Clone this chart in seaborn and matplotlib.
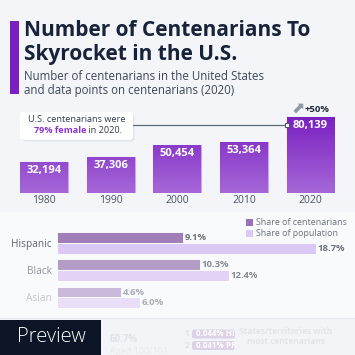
import numpy as np
import pandas as pd
import seaborn as sns
import matplotlib.pyplot as plt
from matplotlib.patches import Rectangle, FancyBboxPatch
from matplotlib.colors import LinearSegmentedColormap

# data
years = ["1980", "1990", "2000", "2010", "2020"]
centenarians = [32194, 37306, 50454, 53364, 80139]

groups = ["Hispanic", "Black", "Asian"]
metrics = ["Share of centenarians", "Share of population"]
share_centenarians = [9.1, 10.3, 4.6]
share_population = [18.7, 12.4, 6.0]

title_lines = ["Number of Centenarians To", "Skyrocket in the U.S."]
subtitle_lines = ["Number of centenarians in the United States",
                  "and data points on centenarians (2020)"]

W = H = 355
BG = "#f3f5f9"
FONT = ["Open Sans", "DejaVu Sans"]

sns.set_theme(style="white")
plt.rcParams["font.family"] = FONT

fig = plt.figure(figsize=(W / 100, H / 100), dpi=100, facecolor=BG)


def px_axes(l, t, r, b, **kw):
    """add an axes placed by pixel edges (origin top-left)"""
    return fig.add_axes([l / W, 1 - b / H, (r - l) / W, (b - t) / H], **kw)


# background panels
back = px_axes(0, 0, W, H)
back.set_xlim(0, W)
back.set_ylim(H, 0)
back.axis("off")
back.add_patch(Rectangle((0, 212), W, 106, color="#f9fafc", lw=0))
back.add_patch(Rectangle((0, 318), W, 37, color="#f2f4f8", lw=0))
back.plot([0, W], [318, 318], color="#e7eaf0", lw=1)
back.add_patch(Rectangle((10, 21), 9, 73, color="#7a1fc0", lw=0))

for line, yb in zip(title_lines, [36.5, 60]):
    back.text(23.5, yb, line, fontsize=15, fontweight="bold", color="#18233a", va="baseline")
for line, yb in zip(subtitle_lines, [80.3, 94]):
    back.text(24, yb, line, fontsize=8.3, color="#3c4858", va="baseline")

# column chart
ax1 = px_axes(10.7, 100, 343.8, 192.7)
ax1.patch.set_alpha(0)
sns.barplot(x=years, y=centenarians, ax=ax1, width=0.72, color="#9a55d0",
            edgecolor="#caa6ee", linewidth=0.8)
ymax = max(centenarians) * (192.7 - 100) / 76
sns.despine(ax=ax1, left=True, bottom=True)
ax1.set_yticks([])
ax1.set_ylabel("")
ax1.tick_params(axis="x", length=0, pad=1.5, labelsize=7.5, labelcolor="#4b5563")

grad = LinearSegmentedColormap.from_list("g", ["#a668d8", "#7a20c0"])
gimg = np.linspace(0, 1, 256).reshape(-1, 1)
top_val = max(centenarians)
for p in ax1.patches:
    im = ax1.imshow(gimg, cmap=grad, origin="lower", aspect="auto",
                    extent=[p.get_x(), p.get_x() + p.get_width(), 0, top_val],
                    zorder=p.get_zorder() + 0.1)
    im.set_clip_path(p)
ax1.set_xlim(-0.5, len(years) - 0.5)
ax1.set_ylim(0, ymax)

for i, v in enumerate(centenarians):
    ax1.annotate(f"{v:,}", xy=(i, v), xytext=(0, -6), textcoords="offset points",
                 ha="center", va="center", color="white", fontweight="bold",
                 fontsize=8, zorder=5)

growth = centenarians[-1] / centenarians[-2] - 1
ax1.annotate(f"+{growth:.0%}", xy=(len(years) - 1, centenarians[-1]), xytext=(4.5, 5.5),
             textcoords="offset points", ha="center", va="center",
             fontsize=6.8, fontweight="bold", color="#222a35", annotation_clip=False)
ax1.annotate("\u2b08", xy=(len(years) - 1, centenarians[-1]), xytext=(-8.5, 6),
             textcoords="offset points", ha="center", va="center",
             fontsize=11.5, color="#8d9aa6", annotation_clip=False,
             family="DejaVu Sans")

# horizontal bars
ax2 = px_axes(57, 229.4, 345, 311.1)
ax2.patch.set_alpha(0)
df = pd.DataFrame({
    "group": groups * 2,
    "metric": [metrics[0]] * 3 + [metrics[1]] * 3,
    "value": share_centenarians + share_population,
})
sns.barplot(data=df, x="value", y="group", hue="metric", orient="h", width=0.8,
            ax=ax2, palette=["#a07fb8", "#dcc8f5"], legend=False,
            edgecolor="white", linewidth=0.6)
ax2.set_xlim(0, 288 / 13.85)
sns.despine(ax=ax2, left=True, bottom=True)
ax2.set_xticks([])
ax2.set_xlabel("")
ax2.set_ylabel("")

cent_colors = ["#a07fb8", "#b39dc6", "#cab9da"]
pop_colors = ["#dcc8f5", "#e2d3f6", "#e9def7"]
label_colors = ["#6d737c", "#858a93", "#a9adb4"]
group_colors = ["#5e6673", "#8e949d", "#c2c6cc"]
for cont, cols in zip(ax2.containers, [cent_colors, pop_colors]):
    for j, p in enumerate(cont.patches):
        p.set_facecolor(cols[j])
        w = p.get_width()
        ax2.annotate(f"{w:.1f}%", xy=(w, p.get_y() + p.get_height() / 2),
                     xytext=(1.2, 0), textcoords="offset points", ha="left",
                     va="center", fontsize=6.8, fontweight="bold", color=label_colors[j])

ax2.tick_params(axis="y", length=0, pad=3.6, labelsize=7.3)
for lab, c in zip(ax2.get_yticklabels(), group_colors):
    lab.set_color(c)

# overlay: annotation, legend, footer
front = px_axes(0, 0, W, H)
front.patch.set_alpha(0)
front.set_xlim(0, W)
front.set_ylim(H, 0)
front.axis("off")

front.add_patch(FancyBboxPatch((21.5, 113.5), 113, 28, boxstyle="round,pad=0,rounding_size=4",
                               fc="#dde2ea", ec="none", alpha=0.8))
front.add_patch(FancyBboxPatch((20, 112), 113, 28, boxstyle="round,pad=0,rounding_size=4",
                               fc="white", ec="none"))
front.text(76.5, 119.5, "U.S. centenarians were", ha="center", va="center",
           fontsize=6.6, color="#2f3a4a")
t1 = front.text(33.5, 130.5, "79% female", ha="left", va="center",
                fontsize=6.6, fontweight="bold", color="#8a35d0")
front.annotate(" in 2020.", xy=(1, 0.5), xycoords=t1, ha="left", va="center",
               fontsize=6.6, color="#2f3a4a")

bar_last = ax1.patches[len(years) - 1]
edge_disp = ax1.transData.transform((bar_last.get_x(), 0))
edge_x = front.transData.inverted().transform(edge_disp)[0]
front.plot([133, edge_x], [124.5, 124.5], color="#5f6b79", lw=0.9)
front.plot([edge_x], [124.5], marker="s", ms=3.2, mfc="white", mec="#4a5568", mew=0.8)

for k, (m, c) in enumerate(zip(metrics, ["#9b72b8", "#dcc8f5"])):
    front.add_patch(Rectangle((246, 218.5 + 11 * k), 7, 7, color=c, lw=0))
    front.text(256, 222.3 + 11 * k, m, va="center", ha="left", fontsize=6.4,
               color="#6b7280")

# faded teaser of the next section
fade = "#dfe2e8"
front.text(110, 339.5, "60.7%", fontsize=7, fontweight="bold", color=fade, va="center")
front.text(110, 351.5, "Aged 100/101", fontsize=6.5, color="#e6e9ee", va="center")
front.text(286, 332, "States/territories with", fontsize=6, fontweight="bold",
           color="#e2e5ea", ha="center", va="center")
front.text(286, 341, "most centenarians", fontsize=6, fontweight="bold",
           color="#e2e5ea", ha="center", va="center")
for k, s in enumerate(["0.044% HI", "0.041% PR"]):
    yy = 334 + 11.5 * k
    front.text(187, yy, str(k + 1), fontsize=6, fontweight="bold", color="#e0e3e8",
               ha="center", va="center")
    front.add_patch(FancyBboxPatch((192, yy - 4.5), 43, 9, boxstyle="round,pad=0,rounding_size=2",
                                   fc="#dcd3e7", ec="none"))
    front.text(196, yy, s, fontsize=5.8, fontweight="bold", color="white", va="center")

front.add_patch(Rectangle((0, 320), 101, 35, color="#0b1526", lw=0))
front.text(51, 337.5, "Preview", fontsize=14.5, color="white", ha="center", va="center",
           fontweight="light")

fig.savefig("out.png", dpi=100, facecolor=BG)
